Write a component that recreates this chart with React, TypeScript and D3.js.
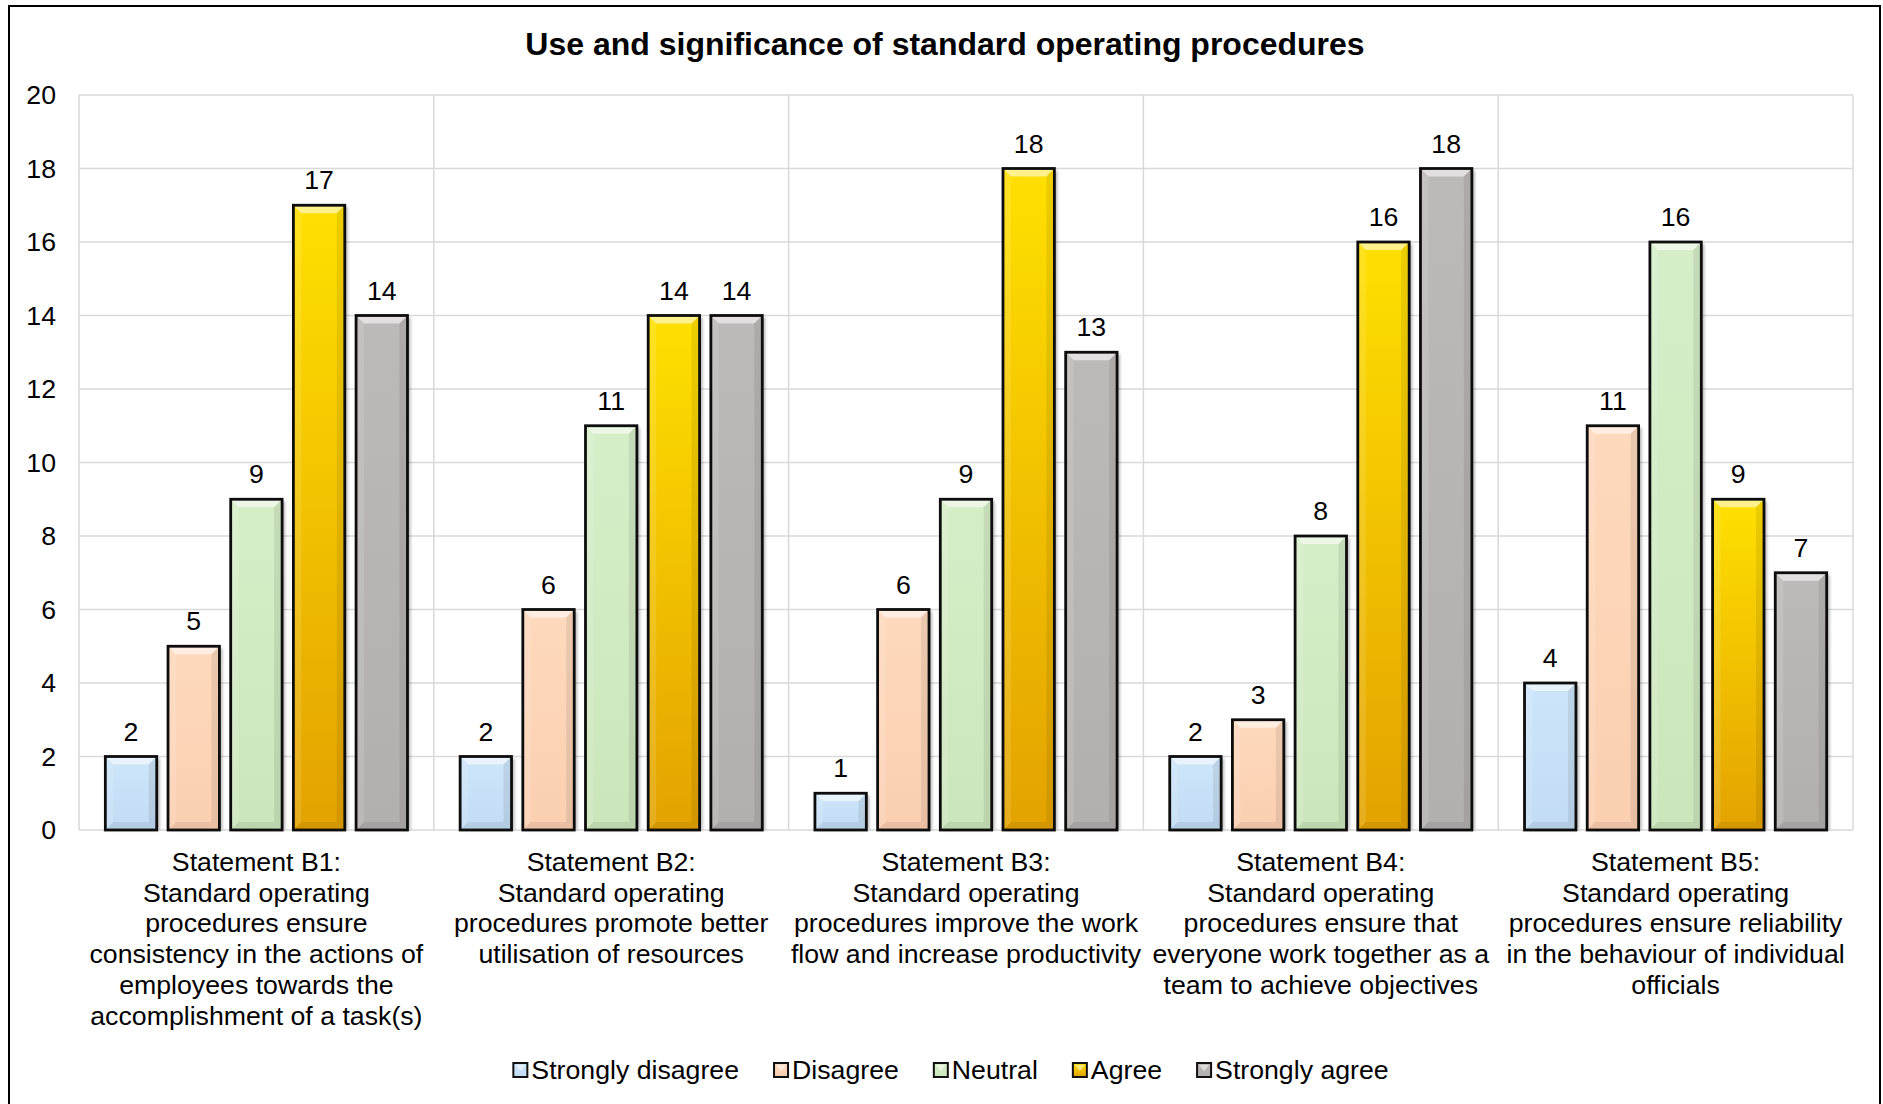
import React from "react";
import * as d3 from "d3";

const title = "Use and significance of standard operating procedures";

const categories = ["B1", "B2", "B3", "B4", "B5"];

const categoryLabels: string[][] = [
  [
    "Statement B1:",
    "Standard operating",
    "procedures ensure",
    "consistency in the actions of",
    "employees towards the",
    "accomplishment of a task(s)",
  ],
  [
    "Statement B2:",
    "Standard operating",
    "procedures promote better",
    "utilisation of resources",
  ],
  [
    "Statement B3:",
    "Standard operating",
    "procedures improve the work",
    "flow and increase productivity",
  ],
  [
    "Statement B4:",
    "Standard operating",
    "procedures ensure that",
    "everyone work together as a",
    "team to achieve objectives",
  ],
  [
    "Statement B5:",
    "Standard operating",
    "procedures ensure reliability",
    "in the behaviour of individual",
    "officials",
  ],
];

const seriesNames = ["Strongly disagree", "Disagree", "Neutral", "Agree", "Strongly agree"];

const stronglyDisagree = [2, 2, 1, 2, 4];
const disagree = [5, 6, 6, 3, 11];
const neutral = [9, 11, 9, 8, 16];
const agree = [17, 14, 18, 16, 9];
const stronglyAgree = [14, 14, 13, 18, 7];

const seriesValues = [stronglyDisagree, disagree, neutral, agree, stronglyAgree];

const yTicks = [0, 2, 4, 6, 8, 10, 12, 14, 16, 18, 20];

// top / bottom colours of each series' vertical gradient
const seriesColors: [string, string][] = [
  ["#cde5fa", "#c2dcf4"],
  ["#fed9bd", "#fbcfb0"],
  ["#d6eec8", "#cbe6bb"],
  ["#ffe000", "#e3a200"],
  ["#bdb9b9", "#b3afaf"],
];

const W = 1883;
const H = 1104;
const FONT = "'Liberation Sans', Arial, Helvetica, sans-serif";
const FS = 26.7;

const plot = { left: 79, right: 1853, top: 95, bottom: 830 };

function measure(text: string, font: string): number {
  if (typeof document === "undefined") return text.length * FS * 0.5;
  const c = document.createElement("canvas");
  const ctx = c.getContext("2d");
  if (!ctx) return text.length * FS * 0.5;
  ctx.font = font;
  return ctx.measureText(text).width;
}

export default function App() {
  const x0 = d3
    .scaleBand<string>()
    .domain(categories)
    .range([plot.left, plot.right])
    .paddingInner(0)
    .paddingOuter(0);

  const x1 = d3
    .scaleBand<number>()
    .domain(d3.range(seriesNames.length))
    .range([0, x0.bandwidth()])
    .paddingInner(0.18)
    .paddingOuter(0.42);

  const y = d3.scaleLinear().domain([0, 20]).range([plot.bottom, plot.top]);

  const bw = x1.bandwidth();
  const bev = 8;

  // legend layout
  const sq = 14;
  const sqGap = 4;
  const itemGap = 35;
  const legendFont = `${FS}px ${FONT}`;
  const widths = seriesNames.map((s) => measure(s, legendFont));
  const totalW =
    widths.reduce((a, b) => a + b, 0) + seriesNames.length * (sq + sqGap) + (seriesNames.length - 1) * itemGap;
  const legendCenter = 951;
  let lx = legendCenter - totalW / 2;
  const legendItems = seriesNames.map((name, i) => {
    const item = { name, i, x: lx };
    lx += sq + sqGap + widths[i] + itemGap;
    return item;
  });
  const legendY = 1070;

  const bounds = [...categories.map((c) => x0(c) as number), plot.right];

  return (
    <svg
      width={W}
      height={H}
      style={{ position: "absolute", left: 0, top: 0, background: "#fff" }}
      fontFamily={FONT}
    >
      <defs>
        {seriesColors.map((c, i) => (
          <linearGradient key={i} id={`g${i}`} x1="0" y1="0" x2="0" y2="1">
            <stop offset="0" stopColor={c[0]} />
            <stop offset="1" stopColor={c[1]} />
          </linearGradient>
        ))}
        <filter id="shadow" x="-20%" y="-20%" width="140%" height="140%">
          <feGaussianBlur stdDeviation="1.6" />
        </filter>
      </defs>

      <rect x={0} y={0} width={W} height={H} fill="#fff" />
      {/* chart frame */}
      <rect x={9} y={6} width={1871} height={H + 20} fill="none" stroke="#000" strokeWidth={2} />

      <text x={945} y={55} textAnchor="middle" fontSize={32} fontWeight="bold" fill="#000">
        {title}
      </text>

      {/* grid */}
      <g stroke="#d9d9d9" strokeWidth={1.5}>
        {yTicks.map((t) => (
          <line key={t} x1={plot.left} x2={plot.right} y1={y(t)} y2={y(t)} />
        ))}
        {bounds.map((bx, i) => (
          <line key={i} x1={bx} x2={bx} y1={plot.top} y2={plot.bottom} />
        ))}
      </g>

      {/* y tick labels */}
      <g fontSize={FS} fill="#000" textAnchor="end">
        {yTicks.map((t) => (
          <text key={t} x={56} y={y(t)} dy="0.35em">
            {t}
          </text>
        ))}
      </g>

      {/* bars */}
      {categories.map((cat, ci) => (
        <g key={cat} transform={`translate(${x0(cat)},0)`}>
          {seriesValues.map((vals, si) => {
            const v = vals[ci];
            const bx = x1(si) as number;
            const top = y(v);
            const h = plot.bottom - top;
            const L = bx;
            const R = bx + bw;
            const B = plot.bottom;
            return (
              <g key={si}>
                <rect x={L + 3} y={top + 2} width={bw} height={h - 2} fill="#000" opacity={0.28} filter="url(#shadow)" />
                <rect x={L} y={top} width={bw} height={h} fill={`url(#g${si})`} />
                {/* bevel facets */}
                <polygon
                  points={`${L},${top} ${R},${top} ${R - bev},${top + bev} ${L + bev},${top + bev}`}
                  fill="#fff"
                  opacity={0.55}
                />
                <polygon
                  points={`${L},${top} ${L + bev},${top + bev} ${L + bev},${B - bev} ${L},${B}`}
                  fill="#fff"
                  opacity={0.12}
                />
                <polygon
                  points={`${R},${top} ${R - bev},${top + bev} ${R - bev},${B - bev} ${R},${B}`}
                  fill="#000"
                  opacity={0.08}
                />
                <polygon
                  points={`${L},${B} ${L + bev},${B - bev} ${R - bev},${B - bev} ${R},${B}`}
                  fill="#000"
                  opacity={0.07}
                />
                <rect x={L} y={top} width={bw} height={h} fill="none" stroke="#0d0d0d" strokeWidth={2.8} />
                <text x={L + bw / 2} y={top - 16} textAnchor="middle" fontSize={FS} fill="#000">
                  {v}
                </text>
              </g>
            );
          })}
        </g>
      ))}

      {/* category labels */}
      <g fontSize={FS} fill="#000" textAnchor="middle">
        {categories.map((cat, ci) => (
          <text key={cat} x={(x0(cat) as number) + x0.bandwidth() / 2} y={871}>
            {categoryLabels[ci].map((line, li) => (
              <tspan key={li} x={(x0(cat) as number) + x0.bandwidth() / 2} dy={li === 0 ? 0 : 30.7}>
                {line}
              </tspan>
            ))}
          </text>
        ))}
      </g>

      {/* legend */}
      <g fontSize={FS} fill="#000">
        {legendItems.map((it) => (
          <g key={it.name}>
            <rect
              x={it.x}
              y={legendY - sq / 2}
              width={sq}
              height={sq}
              fill={`url(#g${it.i})`}
              stroke="#111"
              strokeWidth={2}
            />
            <polygon
              points={`${it.x + 2},${legendY - sq / 2 + 2} ${it.x + sq - 2},${legendY - sq / 2 + 2} ${it.x + sq / 2},${legendY + 1}`}
              fill="#fff"
              opacity={0.5}
            />
            <text x={it.x + sq + sqGap} y={legendY} dy="0.35em">
              {it.name}
            </text>
          </g>
        ))}
      </g>
    </svg>
  );
}
